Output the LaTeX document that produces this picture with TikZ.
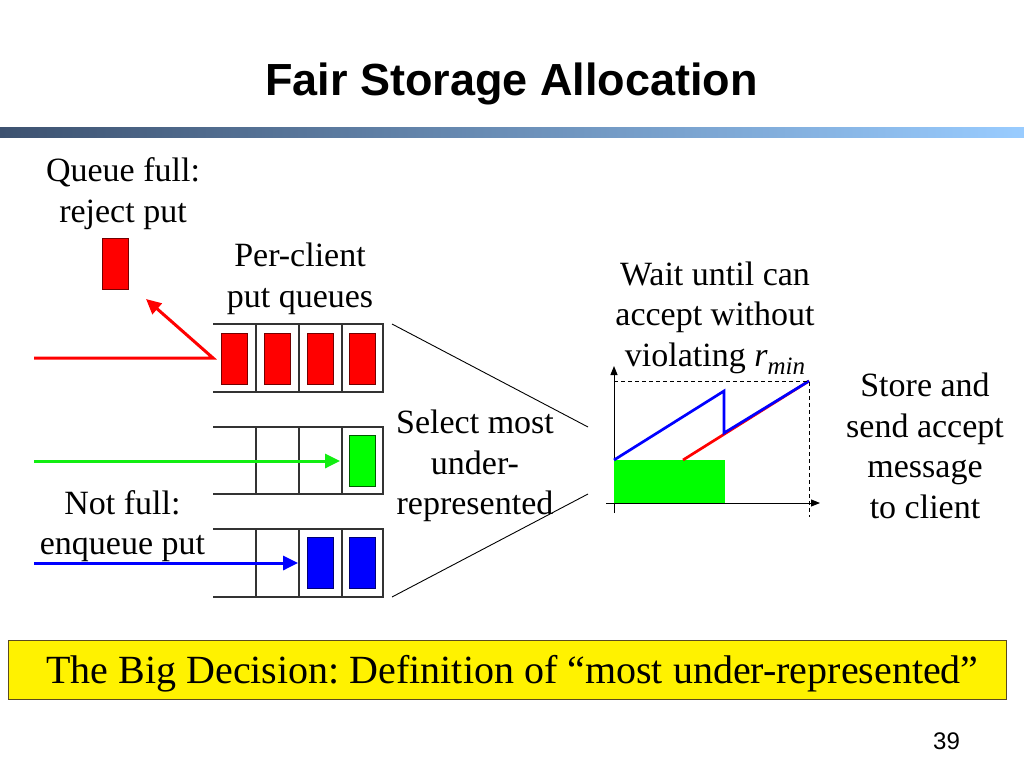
\documentclass[tikz,border=0pt]{standalone}
\usepackage{fontspec}
\setmainfont{Liberation Serif}
\newfontfamily\arialfont{Liberation Sans}
\usetikzlibrary{arrows.meta}
\definecolor{barL}{HTML}{3D5270}
\definecolor{barR}{HTML}{99CCFF}
\definecolor{pgreen}{HTML}{00FF00}
\definecolor{agreen}{HTML}{11EE11}
\definecolor{pblue}{HTML}{0000FF}
\definecolor{pred}{HTML}{FF0000}
\definecolor{boxedge}{HTML}{5A4A20}
\frenchspacing
\begin{document}
\begin{tikzpicture}[x=1pt,y=-1pt,
  body/.style={font=\fontsize{34}{40.5}\selectfont, align=center, inner sep=0pt},
  msg/.style={minimum width=26pt, minimum height=51pt, inner sep=0pt, line width=0.8pt},
  qline/.style={draw=black!80, line width=1.2pt},
  flow/.style={line width=3pt, -{Triangle[length=15pt,width=14pt]}},
  axis/.style={line width=1pt, -{Triangle[length=9pt,width=7pt]}},
  curve/.style={line width=2.7pt}
]
\useasboundingbox (0,0) rectangle (1024,768);

% title and bar
\node[font=\arialfont\bfseries\fontsize{45}{54}\selectfont, anchor=base, inner sep=0pt] (title) at (511.5,95) {Fair Storage Allocation};
\shade[left color=barL, right color=barR] (0,127) rectangle (1024,137);

% queues (open on the left)
\foreach \t/\b in {324/392, 427/494, 529/597}{
  \draw[qline] (213,\t) -- (383,\t) -- (383,\b) -- (213,\b);
  \foreach \x in {256,299,342} \draw[qline] (\x,\t) -- (\x,\b);
}

% messages
\node[msg, fill=pred, draw=pred!45!black] (r1) at (234.5,358.5) {};
\node[msg, fill=pred, draw=pred!45!black] (r2) at (277.5,358.5) {};
\node[msg, fill=pred, draw=pred!45!black] (r3) at (320.5,358.5) {};
\node[msg, fill=pred, draw=pred!45!black] (r4) at (362.5,358.5) {};
\node[msg, fill=pgreen, draw=pgreen!35!black] (g1) at (362.5,461) {};
\node[msg, fill=pblue, draw=pblue!45!black] (b1) at (320.5,563) {};
\node[msg, fill=pblue, draw=pblue!45!black] (b2) at (362.5,563) {};
\node[msg, fill=pred, draw=pred!45!black] (rej) at (115,264) {};

% incoming puts
\coordinate (rin) at (34,358);
\coordinate (rturn) at (213,358);
\coordinate (rtip) at (146,299);
\draw[flow, pred] (rin) -- (rturn) -- (rtip);
\coordinate (gin) at (34,461);
\draw[flow, agreen, shorten >=9pt] (gin) -- (g1.west);
\coordinate (bin) at (34,563);
\draw[flow, pblue, shorten >=9pt] (bin) -- (b1.west);

% funnel lines
\coordinate (f1a) at (392,324);
\coordinate (f1b) at (588,427);
\coordinate (f2a) at (392,597);
\coordinate (f2b) at (588,494);
\draw[line width=0.9pt] (f1a) -- (f1b);
\draw[line width=0.9pt] (f2a) -- (f2b);

% graph
\coordinate (ybot) at (614,513);
\coordinate (ytop) at (614,366);
\coordinate (xl) at (606,503);
\coordinate (xr) at (820,503);
\draw[axis] (ybot) -- (ytop);
\draw[axis] (xl) -- (xr);
\fill[pgreen] (614,460) rectangle (725,503);
\coordinate (c0) at (614,460);
\coordinate (c1) at (724,391);
\coordinate (c2) at (724,433);
\coordinate (c3) at (809,381);
\coordinate (d0) at (683,460);
\draw[curve, pred] (d0) -- (c3);
\draw[curve, pblue, line join=miter] (c0) -- (c1) -- (c2) -- (c3);
\draw[line width=0.9pt, dash pattern=on 4pt off 3pt] (614,381) -- (c3) -- (809,517);

% texts
\node[body] (qfull) at (123,194) {\strut Queue full:\\reject put\strut};
\node[body] (perclient) at (300,279) {\strut Per-client\\put queues\strut};
\node[body] (wait) at (715,317.5) {\strut Wait until can\\accept without\\violating \textit{r}\raisebox{-8pt}{\fontsize{25}{25}\selectfont\textit{min}}\strut};
\node[body] (store) at (925,449.5) {\strut Store and\\send accept\\message\\to client\strut};
\node[body] (select) at (475,466) {\strut Select most\\under-\\represented\strut};
\node[body] (notfull) at (122.5,526.5) {\strut Not full:\\enqueue put\strut};

% bottom box
\node[draw=boxedge, fill=yellow, line width=1pt, minimum width=998pt, minimum height=59pt, inner sep=0pt] (decision) at (507,669.5) {};
\node[font=\fontsize{40}{48}\selectfont, anchor=base, inner sep=0pt] (decisiontext) at (512.5,683) {The Big Decision: Definition of “most under-represented”};

\node[font=\arialfont\fontsize{24}{28}\selectfont, anchor=base, inner sep=0pt] (pg) at (946.5,749) {39};
\end{tikzpicture}
\end{document}
